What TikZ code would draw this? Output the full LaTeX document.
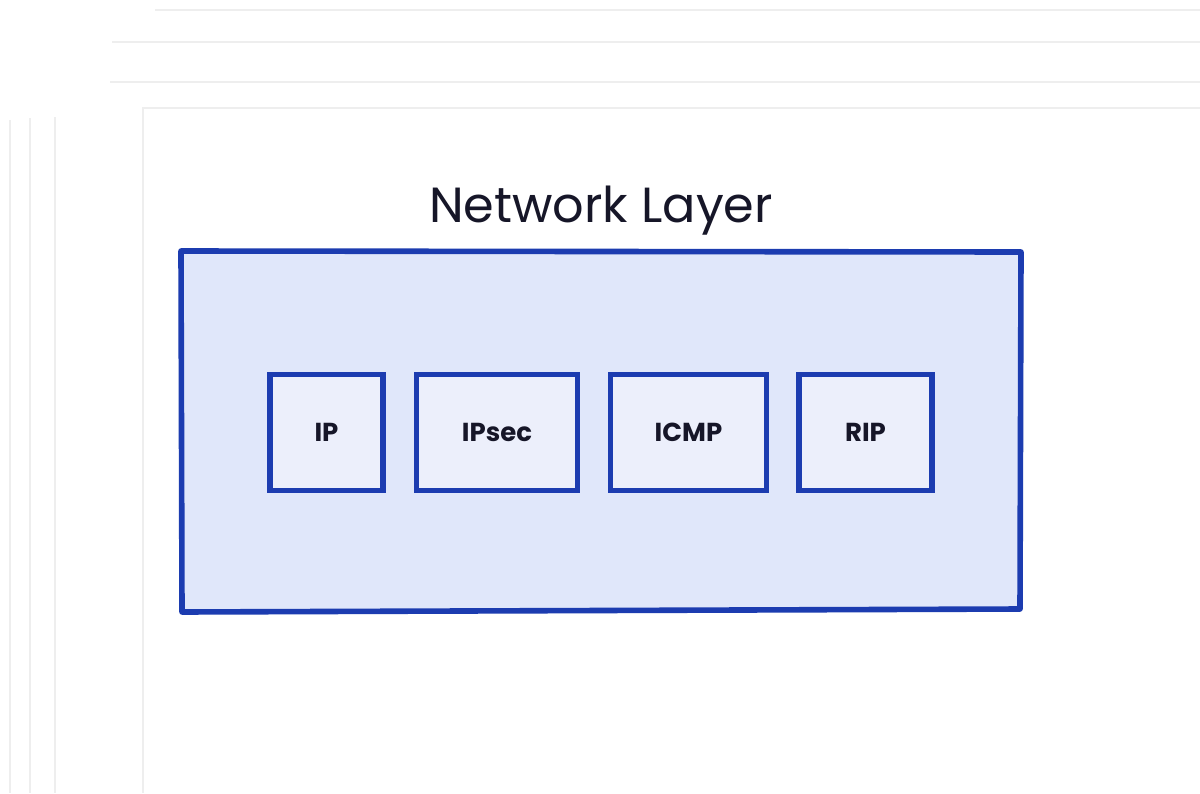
\documentclass[tikz,border=0pt]{standalone}
\usepackage{fontspec}
\setmainfont{Poppins}
\usepackage{tikz}

\definecolor{layerBlue}{RGB}{28,60,176}
\definecolor{layerFill}{RGB}{224,231,250}
\definecolor{protoFill}{RGB}{236,239,251}
\definecolor{labelInk}{RGB}{22,22,40}

\tikzset{
  protobox/.style={draw=layerBlue, line width=4.2pt, fill=protoFill, inner sep=0pt,
    font=\fontsize{19.5}{22}\selectfont\bfseries, text=labelInk},
  ghost/.style={color={rgb, 255:red, 238; green, 238; blue, 238}, line width=0.9pt}
}

\begin{document}
\begin{tikzpicture}[x=0.75pt,y=0.75pt,yscale=-1,xscale=1]
\useasboundingbox (0,0) rectangle (1200,793);
\fill[white] (0,0) rectangle (1200,793);

%Shape: Line [ghost frame]
\draw [ghost] (10,793) -- (10,120) (30,793) -- (30,118) (155,10) -- (1200,10) ;
\draw [ghost] (55,793) -- (55,117) (112,42) -- (1200,42) ;
\draw [ghost] (143,793) -- (143,108) -- (1200,108) ;
\draw [ghost] (110,82) -- (1200,82) ;

%Shape: Rectangle [layer]
\draw [color=layerBlue, line width=4.2pt, fill=layerFill, line join=round] (181,251) -- (1021,252) -- (1020,609) -- (182,612) -- cycle ;

% Text Node
\node (title) at (601,211) [font=\fontsize{37}{40}\selectfont, text=labelInk] {Network Layer};

% Protocol boxes
\node (ip) at (326.5,432.5) [protobox, minimum width=85pt, minimum height=87pt] {IP};
\node (ipsec) at (497,432.5) [protobox, minimum width=121pt, minimum height=87pt] {IPsec};
\node (icmp) at (688.5,432.5) [protobox, minimum width=117pt, minimum height=87pt] {ICMP};
\node (rip) at (865.5,432.5) [protobox, minimum width=100pt, minimum height=87pt] {RIP};

\end{tikzpicture}
\end{document}
